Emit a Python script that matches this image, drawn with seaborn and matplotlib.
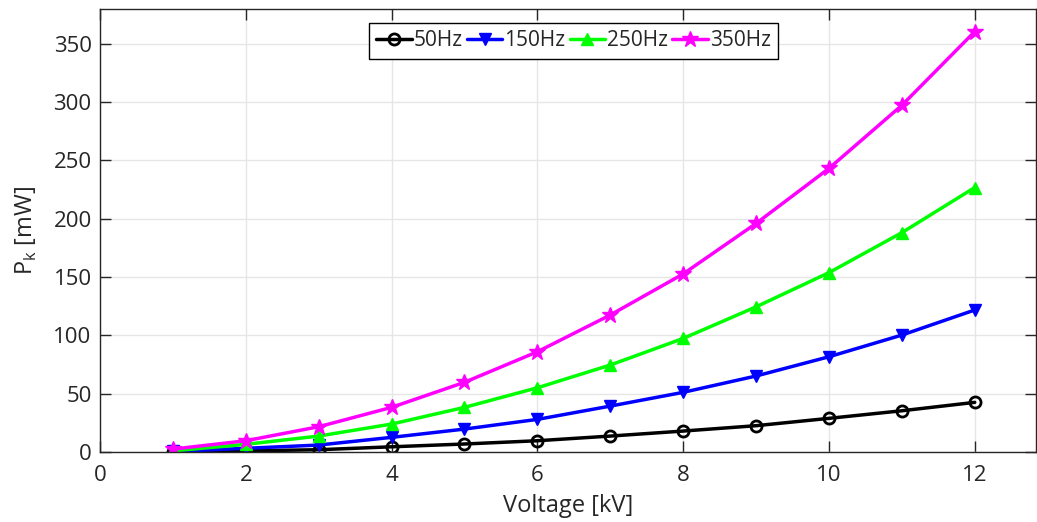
import numpy as np
import pandas as pd
import matplotlib
matplotlib.use("Agg")
import matplotlib.pyplot as plt
import seaborn as sns

voltage = [1, 2, 3, 4, 5, 6, 7, 8, 9, 10, 11, 12]
p_50 = [0.2, 1.0, 2.0, 4.5, 6.9, 9.7, 13.7, 18.0, 22.6, 28.9, 35.4, 42.6]
p_150 = [0.5, 3.2, 6.0, 12.6, 19.7, 28.0, 39.4, 51.2, 65.2, 81.7, 100.3, 121.8]
p_250 = [1.0, 6.6, 13.7, 24.0, 38.3, 55.1, 74.6, 97.4, 124.5, 153.8, 188.1, 226.8]
p_350 = [2.5, 9.7, 21.7, 38.3, 59.8, 86.0, 117.5, 152.7, 196.0, 243.2, 297.3, 360.5]
labels = ["50Hz", "150Hz", "250Hz", "350Hz"]
x_ticks = [0, 2, 4, 6, 8, 10, 12]
y_ticks = [0, 50, 100, 150, 200, 250, 300, 350]

sns.set_theme(style="whitegrid")
plt.rcParams['font.family'] = ['Open Sans', 'DejaVu Sans']

fig = plt.figure(figsize=(10.37, 5.22), dpi=100)
ax = fig.add_axes([0.0964, 0.134, 0.9026, 0.849])

colors = ["#000000", "#0000ff", "#00ff00", "#ff00ff"]
markers = ["o", "v", "^", "*"]
sizes = [8, 9, 9, 12]
series = [p_50, p_150, p_250, p_350]
for vals, lab, c, m, s in zip(series, labels, colors, markers, sizes):
    df = pd.DataFrame({"Voltage": voltage, "P": vals})
    face = "none" if m == "o" else c
    sns.lineplot(data=df, x="Voltage", y="P", ax=ax, color=c, marker=m,
                 markersize=s, markerfacecolor=face, markeredgecolor=c,
                 markeredgewidth=2 if m == "o" else 1, linewidth=2.5, label=lab)

ax.set_xlim(0, 12.84)
ax.set_ylim(0, 380)
ax.set_xticks(x_ticks)
ax.set_yticks(y_ticks)
ax.set_xlabel("Voltage [kV]", fontsize=17, color="#262626", labelpad=6)
ax.set_ylabel(r"P$_\mathregular{k}$ [mW]", fontsize=17, color="#262626", labelpad=10)
ax.tick_params(axis="both", labelsize=16, colors="#262626", direction="in",
               length=8, width=1, top=True, right=True, bottom=True, left=True)
ax.tick_params(axis="x", pad=9)
ax.tick_params(axis="y", pad=6)
ax.grid(True, color="#e6e6e6", linewidth=1)
for sp in ax.spines.values():
    sp.set_visible(True)
    sp.set_color("#262626")
    sp.set_linewidth(1)

leg = ax.legend(loc="upper center", bbox_to_anchor=(0.506, 0.968), ncol=4,
                fontsize=15, frameon=True, fancybox=False, handlelength=1.7,
                handletextpad=0.1, columnspacing=0.2, borderpad=0.35,
                borderaxespad=0)
leg.get_frame().set_edgecolor("black")
leg.get_frame().set_linewidth(1)
leg.get_frame().set_alpha(1)

fig.savefig("out.png", dpi=100)
